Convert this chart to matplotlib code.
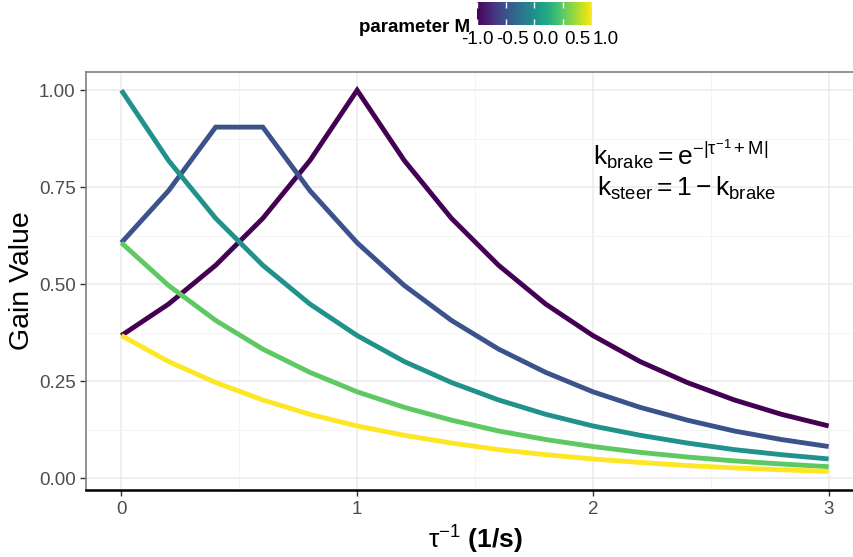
import matplotlib
matplotlib.use("Agg")
import matplotlib.pyplot as plt
from matplotlib.cm import ScalarMappable
from matplotlib.colors import Normalize
from matplotlib.ticker import MultipleLocator

plt.rcParams["font.family"] = ["Liberation Sans", "DejaVu Sans"]
plt.rcParams["mathtext.fontset"] = "custom"
plt.rcParams["mathtext.rm"] = "Liberation Sans"
plt.rcParams["mathtext.it"] = "Liberation Sans:italic"
plt.rcParams["mathtext.bf"] = "Liberation Sans:bold"

# inverse time constant, sampled every 0.2 s^-1
tau_inv = [0.0, 0.2, 0.4, 0.6, 0.8, 1.0, 1.2, 1.4, 1.6, 1.8,
           2.0, 2.2, 2.4, 2.6, 2.8, 3.0]
m_values = [-1.0, -0.5, 0.0, 0.5, 1.0]
m_labels = ["-1.0", "-0.5", "0.0", "0.5", "1.0"]

gain_m_neg1 = [0.368, 0.449, 0.549, 0.670, 0.819, 1.000, 0.819, 0.670,
               0.549, 0.449, 0.368, 0.301, 0.247, 0.202, 0.165, 0.135]
gain_m_neg05 = [0.607, 0.741, 0.905, 0.905, 0.741, 0.607, 0.497, 0.407,
                0.333, 0.273, 0.223, 0.183, 0.150, 0.122, 0.100, 0.082]
gain_m_0 = [1.000, 0.819, 0.670, 0.549, 0.449, 0.368, 0.301, 0.247,
            0.202, 0.165, 0.135, 0.111, 0.091, 0.074, 0.061, 0.050]
gain_m_05 = [0.607, 0.497, 0.407, 0.333, 0.273, 0.223, 0.183, 0.150,
             0.122, 0.100, 0.082, 0.067, 0.055, 0.045, 0.037, 0.030]
gain_m_1 = [0.368, 0.301, 0.247, 0.202, 0.165, 0.135, 0.111, 0.091,
            0.074, 0.061, 0.050, 0.041, 0.033, 0.027, 0.022, 0.018]

gains = [gain_m_neg1, gain_m_neg05, gain_m_0, gain_m_05, gain_m_1]

W, H = 854, 557
fig = plt.figure(figsize=(W / 100, H / 100), dpi=100)

# panel runs past the right edge, like the original crop
ax = fig.add_axes([86 / W, 1 - 490 / H, (864 - 86) / W, (490 - 72) / H])

norm = Normalize(vmin=-1.0, vmax=1.0)
cmap = plt.get_cmap("viridis")
for m, g in zip(m_values, gains):
    ax.plot(tau_inv, g, color=cmap(norm(m)), linewidth=3.5,
            solid_joinstyle="miter", solid_capstyle="butt", zorder=3)

ax.set_xlim(-0.15, 3.15)
ax.set_ylim(-0.03, 1.047)
ax.xaxis.set_major_locator(MultipleLocator(1))
ax.xaxis.set_minor_locator(MultipleLocator(0.5))
ax.yaxis.set_minor_locator(MultipleLocator(0.125))
ax.set_yticks([0, 0.25, 0.5, 0.75, 1.0], ["0.00", "0.25", "0.50", "0.75", "1.00"])
ax.grid(True, which="major", color="#ebebeb", linewidth=1.1, zorder=0)
ax.grid(True, which="minor", color="#f3f3f3", linewidth=0.6, zorder=0)
ax.set_axisbelow(True)
ax.tick_params(which="major", direction="out", length=4, width=1,
               color="#333333", labelcolor="#4d4d4d", labelsize=13.5)
ax.tick_params(which="minor", length=0)
ax.tick_params(axis="x", pad=4)

for side in ("left", "top", "right"):
    ax.spines[side].set_color("#808080")
    ax.spines[side].set_linewidth(1.2)
ax.spines["bottom"].set_color("black")
ax.spines["bottom"].set_linewidth(1.8)

ax.set_ylabel("Gain Value", fontsize=20.5, labelpad=3)
ax.set_xlabel(r"$\mathrm{\tau}^{\mathrm{-1}}$ (1/s)", fontsize=19,
              fontweight="bold", labelpad=4)

fig.text(593 / W, 1 - 155 / H,
         r"$\mathregular{k_{brake} = e^{-|\tau^{-1}+M|}}$",
         fontsize=19, ha="left", va="center")
fig.text(597 / W, 1 - 188 / H,
         r"$\mathregular{k_{steer} = 1 - k_{brake}}$",
         fontsize=19, ha="left", va="center")

# colour bar legend on top
cax = fig.add_axes([477 / W, 1 - 25 / H, (592 - 477) / W, 23 / H])
cb = fig.colorbar(ScalarMappable(norm=norm, cmap=cmap), cax=cax,
                  orientation="horizontal", ticks=m_values)
cb.outline.set_visible(False)
cax.tick_params(direction="in", color="white", length=4, width=1,
                top=True, bottom=True, labelbottom=False)
# ggplot spreads the bar labels a little wider than the bar itself
label_x = [477, 512, 545, 577, 606]
for lx, lab in zip(label_x, m_labels):
    fig.text(lx / W, 1 - 40 / H, lab, fontsize=13.5, ha="center", va="center")
fig.text(470 / W, 1 - 27 / H, "parameter M", fontsize=13.5,
         fontweight="bold", ha="right", va="center")

fig.savefig("out.png", dpi=100)
